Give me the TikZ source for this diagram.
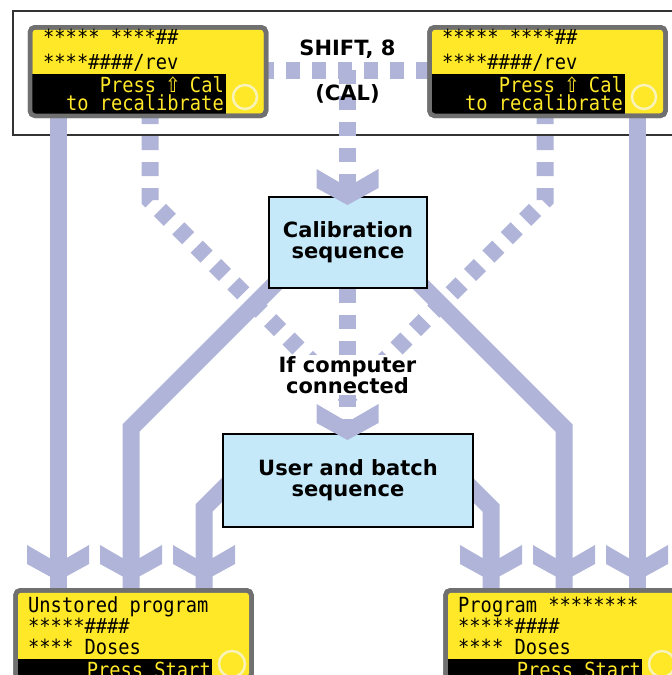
\documentclass[tikz,border=0pt]{standalone}
\usepackage{fontspec}
\usetikzlibrary{backgrounds}
\newfontfamily\lcdfont{DejaVu Sans Mono}[FakeStretch=0.9]
\newfontfamily\lcdsym{DejaVu Sans}[FakeStretch=0.9]
\newfontfamily\lblfont{DejaVu Sans}
\definecolor{lav}{RGB}{176,180,216}
\definecolor{lcdyellow}{RGB}{255,232,40}
\definecolor{lcdgray}{RGB}{112,112,112}
\definecolor{seqblue}{RGB}{197,233,249}
\definecolor{ringcol}{RGB}{247,243,185}
\definecolor{framegray}{RGB}{51,51,51}
\tikzset{
  flow/.style={draw=lav, line width=17pt, line join=miter},
  flowdot/.style={flow, dash pattern=on 14pt off 12pt},
  lcdbox/.style={draw=lcdgray, fill=lcdyellow, line width=4.5pt, rounded corners=5pt,
    minimum width=236pt, minimum height=88.5pt, inner sep=0pt, outer sep=0pt},
  lcdrim/.style={draw=lcdgray, line width=4.5pt, rounded corners=5pt},
  seqbox/.style={draw=black, fill=seqblue, line width=2pt, inner sep=0pt, align=center,
    font=\lblfont\bfseries\fontsize{21}{21}\selectfont},
  lbl/.style={font=\lblfont\bfseries\fontsize{21}{21}\selectfont, inner sep=0pt, align=center},
  lcdtxt/.style={font=\lcdfont\fontsize{20.8}{20.8}\selectfont, inner sep=0pt, text=black},
  lcdinv/.style={lcdtxt, text=lcdyellow},
  ringmark/.style={draw=ringcol, line width=2.5pt},
  chev/.pic={\fill[lav] (0,0) -- (31,-17) -- (31,-36) -- (0,-18) -- (-31,-36) -- (-31,-17) -- cycle;},
}
\newcommand{\shiftarrow}{\makebox[11.3pt]{\lcdsym ⇧}}
\begin{document}
\begin{tikzpicture}[x=1pt,y=-1pt]
\useasboundingbox (0,0) rectangle (672,675);

% ---------- coordinates ----------
\coordinate (s1a) at (58,110);   \coordinate (s1t) at (58,581);
\coordinate (s2a) at (279,280);  \coordinate (s2k) at (131,428);  \coordinate (s2t) at (131,581);
\coordinate (s3a) at (240,472);  \coordinate (s3k) at (204,508);  \coordinate (s3t) at (204,581);
\coordinate (s4a) at (416,280);  \coordinate (s4k) at (564,428);  \coordinate (s4t) at (564,581);
\coordinate (s5a) at (455,472);  \coordinate (s5k) at (491,508);  \coordinate (s5t) at (491,581);
\coordinate (s6a) at (637,110);  \coordinate (s6t) at (637,581);
\coordinate (d1a) at (150,110);  \coordinate (d1k) at (150,200);
\coordinate (d2a) at (545,110);  \coordinate (d2k) at (545,200);
\coordinate (dm)  at (347.5,397.5);
\coordinate (d3a) at (260,70);   \coordinate (d3b) at (435,70);
\coordinate (d4a) at (347.5,70); \coordinate (calt) at (347.5,205);
\coordinate (d5a) at (347.5,289);\coordinate (usrt) at (347.5,440);

% ---------- main nodes ----------
\node[lcdbox] (lcdTL) at (148,71.5) {};
\node[lcdbox] (lcdTR) at (547.5,71.5) {};
\node[lcdbox] (lcdBL) at (133.5,634.5) {};
\node[lcdbox] (lcdBR) at (563.5,634.5) {};

\fill[black] (32.25,74) rectangle (226,113.5);
\fill[black] (431.75,74) rectangle (625,113.5);
\fill[black] (17.75,659) rectangle (212,681);
\fill[black] (447.75,659) rectangle (642,681);
\draw[lcdrim] (lcdTL.south west) rectangle (lcdTL.north east);
\draw[lcdrim] (lcdTR.south west) rectangle (lcdTR.north east);
\draw[lcdrim] (lcdBL.south west) rectangle (lcdBL.north east);
\draw[lcdrim] (lcdBR.south west) rectangle (lcdBR.north east);

\draw[ringmark] (245,97) circle[radius=12pt];
\draw[ringmark] (644,97) circle[radius=12pt];
\draw[ringmark] (232,664) circle[radius=13pt];
\draw[ringmark] (662,664) circle[radius=13pt];

% LCD texts top-left
\node[lcdtxt, anchor=base west] (tl1) at (43,44) {***** ****\#\#};
\node[lcdtxt, anchor=base west] (tl2) at (43,69) {****\#\#\#\#/rev};
\node[lcdinv, anchor=base east] (tl3) at (224,92) {Press \shiftarrow{} Cal};
\node[lcdinv, anchor=base east] (tl4) at (224,110) {to recalibrate};
% LCD texts top-right
\node[lcdtxt, anchor=base west] (tr1) at (442,44) {***** ****\#\#};
\node[lcdtxt, anchor=base west] (tr2) at (442,69) {****\#\#\#\#/rev};
\node[lcdinv, anchor=base east] (tr3) at (623,92) {Press \shiftarrow{} Cal};
\node[lcdinv, anchor=base east] (tr4) at (623,110) {to recalibrate};
% LCD texts bottom-left
\node[lcdtxt, anchor=base west] (bl1) at (28,612) {Unstored program};
\node[lcdtxt, anchor=base west] (bl2) at (28,633) {*****\#\#\#\#};
\node[lcdtxt, anchor=base west] (bl3) at (28,654) {**** Doses};
\node[lcdinv, anchor=base east] (bl4) at (211,677) {Press Start};
% LCD texts bottom-right
\node[lcdtxt, anchor=base west] (br1) at (458,612) {Program ********};
\node[lcdtxt, anchor=base west] (br2) at (458,633) {*****\#\#\#\#};
\node[lcdtxt, anchor=base west] (br3) at (458,654) {**** Doses};
\node[lcdinv, anchor=base east] (br4) at (641,677) {Press Start};

% sequence boxes
\node[seqbox, minimum width=158pt, minimum height=91pt] (cal) at (348,242.5) {Calibration\\sequence};
\node[seqbox, minimum width=250pt, minimum height=93pt] (usr) at (348,480.5) {User and batch\\sequence};

% arrowheads
\pic at (calt) {chev};
\pic at (usrt) {chev};
\pic at (s1t) {chev};
\pic at (s2t) {chev};
\pic at (s3t) {chev};
\pic at (s4t) {chev};
\pic at (s5t) {chev};
\pic at (s6t) {chev};

% labels
\node[lbl, anchor=base] (shiftlbl) at (347.5,55) {SHIFT, 8};
\node[lbl, anchor=base] (callbl) at (347.5,100) {(CAL)};
\node[lbl, fill=white, inner sep=1pt] (ifc) at (347.5,375) {If computer\\connected};

% ---------- background: frame and connectors ----------
\begin{scope}[on background layer]
  \draw[framegray, line width=2pt] (13,11) rectangle (700,135);
  \draw[flow] (s1a) -- ([yshift=-10pt]s1t);
  \draw[flow] (s2a) -- (s2k) -- ([yshift=-10pt]s2t);
  \draw[flow] (s3a) -- (s3k) -- ([yshift=-10pt]s3t);
  \draw[flow] (s4a) -- (s4k) -- ([yshift=-10pt]s4t);
  \draw[flow] (s5a) -- (s5k) -- ([yshift=-10pt]s5t);
  \draw[flow] (s6a) -- ([yshift=-10pt]s6t);
  \draw[flowdot] (d1a) -- (d1k) -- (dm);
  \draw[flowdot] (d2a) -- (d2k) -- (dm);
  \draw[flowdot] (d3a) -- (d3b);
  \draw[flowdot] (d4a) -- ([yshift=-10pt]calt);
  \draw[flowdot] (d5a) -- ([yshift=-10pt]usrt);
\end{scope}
\end{tikzpicture}
\end{document}
